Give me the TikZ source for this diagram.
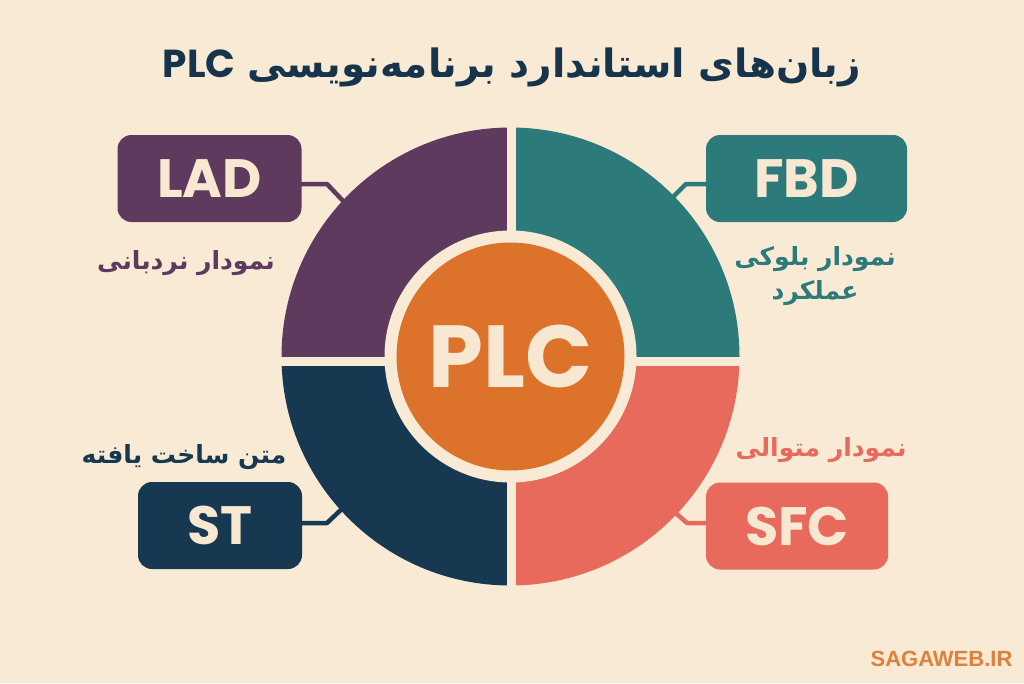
\documentclass[tikz,border=0pt]{standalone}
\usepackage{fontspec}
\usetikzlibrary{calc}
\TeXXeTstate=1
\newfontfamily\fafont[Script=Arabic]{DejaVu Sans}
\newfontfamily\latinf{Poppins}
\newfontfamily\markf{Liberation Sans}
\definecolor{bgc}{HTML}{F8EAD4}
\definecolor{purp}{HTML}{5E3A5E}
\definecolor{tealc}{HTML}{2D7A7B}
\definecolor{navyc}{HTML}{163850}
\definecolor{coralc}{HTML}{E86A5C}
\definecolor{orangec}{HTML}{DD722A}
\definecolor{titlec}{HTML}{17344D}
\definecolor{markc}{HTML}{E0803C}
\definecolor{creamt}{HTML}{F8E8D2}
\begin{document}
\begin{tikzpicture}[x=1pt,y=-1pt,
  lbox/.style={rounded corners=14pt, inner sep=0pt, minimum height=87pt, text=creamt,
    font=\latinf\bfseries\fontsize{54}{54}\selectfont},
  conn/.style={line width=4.5pt, line join=round},
  lbl/.style={inner sep=0pt, font=\fafont\bfseries\fontsize{25}{34}\selectfont},
]
\useasboundingbox (0,0) rectangle (1024,683);
\fill[bgc] (0,0) rectangle (1024,683);
\coordinate (c) at (510.5,356.5);

% title
\node[inner sep=0pt, text=titlec] (title) at (512,67)
  {{\latinf\bfseries\fontsize{39}{44}\selectfont PLC}\hspace{12pt}{\fafont\bfseries\fontsize{39}{44}\selectfont\beginR زبان‌های استاندارد برنامه‌نویسی\endR}};

% boxes
\node[lbox, fill=purp, minimum width=184pt] (lad) at (209.5,178.5) {LAD};
\node[lbox, fill=tealc, minimum width=201pt] (fbd) at (806.5,178.5) {FBD};
\node[lbox, fill=navyc, minimum width=164pt] (st) at (220,525.5) {ST};
\node[lbox, fill=coralc, minimum width=182pt] (sfc) at (797,526) {SFC};

% circle end points of connectors
\coordinate (ladc) at (346,204);
\coordinate (fbdc) at (669,201);
\coordinate (stc) at (346,505);
\coordinate (sfcc) at (670,508);

\draw[conn, purp] ($(lad.east)+(-2,5.5)$) -- (327,184) -- (ladc);
\draw[conn, tealc] ($(fbd.west)+(2,5.5)$) -- (686,184) -- (fbdc);
\draw[conn, navyc] ($(st.east)+(-2,-2.5)$) -- (327,523) -- (stc);
\draw[conn, coralc] ($(sfc.west)+(2,-3)$) -- (687,523) -- (sfcc);

% quadrants
\begin{scope}
\clip (c) circle[radius=229];
\fill[purp] (0,0) rectangle (511.5,361);
\fill[tealc] (511.5,0) rectangle (1024,361);
\fill[navyc] (0,361) rectangle (511.5,683);
\fill[coralc] (511.5,361) rectangle (1024,683);
\end{scope}
\draw[bgc, line width=9pt] (511.5,120) -- (511.5,595);
\draw[bgc, line width=9pt] (270,361) -- (752,361);
\fill[bgc] (c) circle[radius=126];
\node[circle, fill=orangec, minimum size=228pt, inner sep=0pt, text=creamt,
  font=\latinf\bfseries\fontsize{88}{88}\selectfont] (plc) at (c) {PLC};

% labels
\node[lbl, text=purp] (ladl) at (186,263) {\beginR نمودار نردبانی\endR};
\node[lbl, text=tealc, align=center] (fbdl) at (815,276) {\beginR نمودار بلوکی\endR\\\beginR عملکرد\endR};
\node[lbl, text=navyc] (stl) at (184,457) {\beginR متن ساخت یافته\endR};
\node[lbl, text=coralc] (sfcl) at (821,450) {\beginR نمودار متوالی\endR};

% watermark
\node[inner sep=0pt, text=markc, font=\markf\bfseries\fontsize{22}{22}\selectfont] (mark) at (941.5,659) {SAGAWEB.IR};
\end{tikzpicture}
\end{document}
